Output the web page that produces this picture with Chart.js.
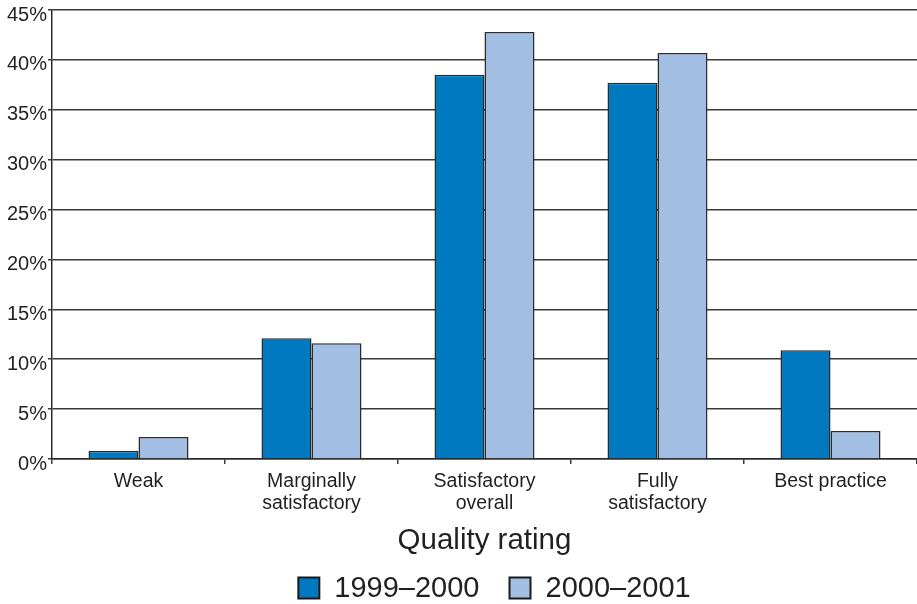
<!DOCTYPE html>
<html>
<head>
<meta charset="utf-8">
<script src="https://cdn.jsdelivr.net/npm/chart.js@4.4.1/dist/chart.umd.min.js"></script>
<style>
  html, body { margin: 0; padding: 0; background: #ffffff; }
  #wrap { width: 917px; height: 604px; }
</style>
</head>
<body>
<div id="wrap"><canvas id="c" width="917" height="604"></canvas></div>
<script>
// Quality ratings by year (share of projects, %)
const categories = [
  'Weak',
  ['Marginally', 'satisfactory'],
  ['Satisfactory', 'overall'],
  ['Fully', 'satisfactory'],
  'Best practice'
];
const series1999 = [0.8, 12.1, 38.5, 37.7, 10.9];
const series2000 = [2.2, 11.6, 42.8, 40.7, 2.8];
const seriesNames = ['1999–2000', '2000–2001'];
const yTicks = [0, 5, 10, 15, 20, 25, 30, 35, 40, 45];

const ink = '#231f20';
const fontFamily = 'Arial, "Liberation Sans", Helvetica, sans-serif';

// Legend row under the axis title: filled squares with outlines, then labels
const bottomLegend = {
  id: 'bottomLegend',
  afterDraw(chart) {
    const ctx = chart.ctx;
    const size = 29, box = 21, gapText = 15, gapItem = 30;
    ctx.save();
    ctx.font = size + 'px ' + fontFamily;
    ctx.textBaseline = 'middle';
    ctx.textAlign = 'left';
    const items = chart.data.datasets.map(ds => ({
      text: ds.label, color: ds.backgroundColor, w: ctx.measureText(ds.label).width
    }));
    const total = items.reduce((s, it) => s + box + gapText + it.w, 0) + gapItem * (items.length - 1);
    const area = chart.chartArea;
    let x = (area.left + area.right) / 2 + 10 - total / 2;
    const y = chart.height - 16;
    items.forEach(it => {
      ctx.fillStyle = it.color;
      ctx.fillRect(x, y - box / 2, box, box);
      ctx.strokeStyle = '#1a1a1a';
      ctx.lineWidth = 2;
      ctx.strokeRect(x, y - box / 2, box, box);
      ctx.fillStyle = ink;
      ctx.fillText(it.text, x + box + gapText, y + 1);
      x += box + gapText + it.w + gapItem;
    });
    ctx.restore();
  }
};

new Chart(document.getElementById('c'), {
  type: 'bar',
  data: {
    labels: categories,
    datasets: [
      {
        label: seriesNames[0],
        data: series1999,
        backgroundColor: '#0079c1',
        borderColor: '#2b2b2b',
        borderWidth: 1.5,
        borderSkipped: 'bottom'
      },
      {
        label: seriesNames[1],
        data: series2000,
        backgroundColor: '#a2bee2',
        borderColor: '#2b2b2b',
        borderWidth: 1.5,
        borderSkipped: 'bottom'
      }
    ]
  },
  plugins: [bottomLegend],
  options: {
    responsive: false,
    animation: false,
    devicePixelRatio: 1,
    layout: { padding: { top: 10, right: 0, left: 0, bottom: 45 } },
    datasets: {
      bar: { barPercentage: 1.0, categoryPercentage: 0.578 }
    },
    plugins: {
      tooltip: { enabled: false },
      legend: { display: false }
    },
    scales: {
      x: {
        offset: true,
        grid: {
          offset: true,
          drawOnChartArea: false,
          drawTicks: true,
          tickLength: 5,
          color: '#3a3a3a',
          lineWidth: 1.5
        },
        border: { display: true, color: '#2b2b2b', width: 1.5 },
        ticks: {
          color: ink,
          font: { family: fontFamily, size: 19.5, lineHeight: 1.13 },
          padding: 7,
          maxRotation: 0,
          autoSkip: false
        },
        title: {
          display: true,
          text: 'Quality rating',
          color: ink,
          font: { family: fontFamily, size: 29.5 },
          padding: { top: 0, bottom: 0 }
        },
        afterFit(scale) { scale.height = 100; }
      },
      y: {
        min: 0,
        max: 45,
        afterBuildTicks(scale) {
          scale.ticks = yTicks.map(v => ({ value: v }));
        },
        grid: {
          color: '#3a3a3a',
          lineWidth: 1.5,
          drawTicks: true,
          tickLength: 4
        },
        border: { display: true, color: '#2b2b2b', width: 1.5 },
        ticks: {
          color: ink,
          font: { family: fontFamily, size: 20 },
          padding: 1,
          labelOffset: 5,
          callback: v => v + '%'
        },
        afterFit(scale) {
          scale.width = 52;
          scale.paddingTop = 0;
          scale.paddingBottom = 0;
        }
      }
    }
  }
});
</script>
</body>
</html>
